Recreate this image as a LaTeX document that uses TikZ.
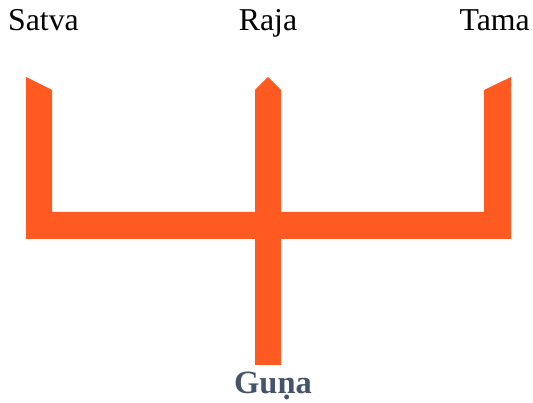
\documentclass[tikz,border=0pt]{standalone}
\usepackage{fontspec}
\setmainfont{Liberation Serif}
\definecolor{gunaorange}{HTML}{FF5A22}
\definecolor{gunaslate}{HTML}{44546A}
\begin{document}
\begin{tikzpicture}[x=1pt,y=1pt,
  label/.style={inner sep=0pt,font=\fontsize{31.8}{38}\selectfont},
  trident/.style={fill=gunaorange,draw=none}]
\useasboundingbox (0,0) rectangle (533,403);
\fill[trident] (26,326) -- (52,313) -- (52,191) -- (255,191) -- (255,313) -- (268,326)
  -- (281,313) -- (281,191) -- (484,191) -- (484,313) -- (511,326) -- (511,164)
  -- (281,164) -- (281,38) -- (255,38) -- (255,164) -- (26,164) -- cycle;
\node[label,anchor=base west] (satva) at (8,372) {Satva};
\node[label,anchor=base] (raja) at (268,372) {Raja};
\node[label,anchor=base east] (tama) at (530,372) {Tama};
\node[label,anchor=base,text=gunaslate,font=\fontsize{32.5}{39}\selectfont\bfseries] (guna) at (273,9) {Guṇa};
\end{tikzpicture}
\end{document}
